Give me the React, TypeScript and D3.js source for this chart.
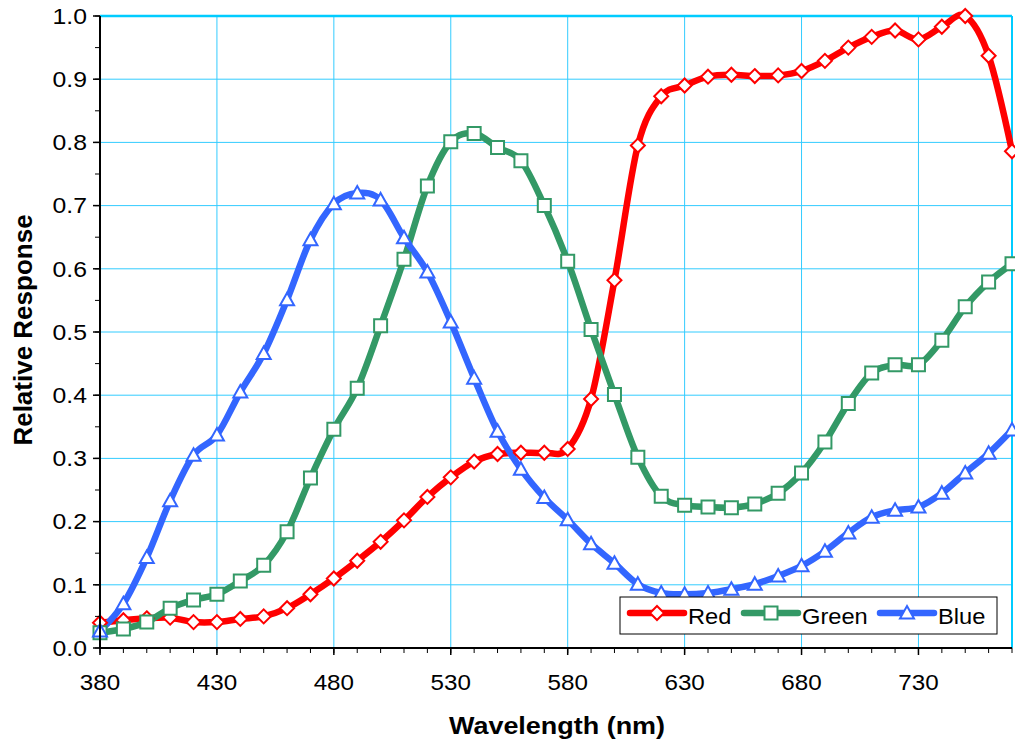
import * as d3 from 'd3';

const WIDTH = 1015;
const HEIGHT = 745;

const wavelengths = [
  380, 390, 400, 410, 420, 430, 440, 450, 460, 470, 480, 490, 500, 510, 520, 530, 540, 550, 560, 570,
  580, 590, 600, 610, 620, 630, 640, 650, 660, 670, 680, 690, 700, 710, 720, 730, 740, 750, 760, 770,
];

const red = [
  0.04, 0.044, 0.047, 0.048, 0.041, 0.041, 0.046, 0.05, 0.063, 0.085, 0.11, 0.138, 0.168, 0.202, 0.239,
  0.27, 0.295, 0.307, 0.309, 0.309, 0.315, 0.394, 0.582, 0.795, 0.873, 0.89, 0.904, 0.907, 0.905, 0.906,
  0.913, 0.929, 0.95, 0.967, 0.977, 0.963, 0.983, 1.0, 0.937, 0.786,
];

const green = [
  0.024, 0.03, 0.041, 0.063, 0.076, 0.085, 0.106, 0.131, 0.184, 0.269, 0.346, 0.411, 0.51, 0.615, 0.731,
  0.801, 0.814, 0.792, 0.771, 0.7, 0.612, 0.504, 0.401, 0.302, 0.24, 0.226, 0.223, 0.222, 0.228, 0.245,
  0.277, 0.326, 0.387, 0.435, 0.448, 0.448, 0.487, 0.54, 0.579, 0.608,
];

const blue = [
  0.027, 0.07, 0.143, 0.233, 0.305, 0.337, 0.405, 0.466, 0.551, 0.646, 0.703, 0.72, 0.709, 0.649, 0.595,
  0.516, 0.427, 0.343, 0.283, 0.238, 0.203, 0.165, 0.134, 0.101, 0.087, 0.085, 0.087, 0.093, 0.101, 0.114,
  0.13, 0.153, 0.182, 0.207, 0.218, 0.223, 0.245, 0.277, 0.308, 0.345,
];

const xTicks = [380, 430, 480, 530, 580, 630, 680, 730];
const yTicks = [0, 0.1, 0.2, 0.3, 0.4, 0.5, 0.6, 0.7, 0.8, 0.9, 1.0];

type Shape = 'diamond' | 'square' | 'triangle';

const series: { name: string; color: string; shape: Shape; values: number[] }[] = [
  { name: 'Red', color: '#ff0000', shape: 'diamond', values: red },
  { name: 'Green', color: '#339966', shape: 'square', values: green },
  { name: 'Blue', color: '#3366ff', shape: 'triangle', values: blue },
];

const GRID = '#33ccff';
const FONT = "'Liberation Sans', Arial, sans-serif";
const SX = 1.1; // text in the original is slightly stretched horizontally

function markerPath(shape: Shape, cx: number, cy: number) {
  if (shape === 'diamond') {
    const r = 7;
    return `M${cx},${cy - r}L${cx + r},${cy}L${cx},${cy + r}L${cx - r},${cy}Z`;
  }
  if (shape === 'square') {
    const h = 6.5;
    return `M${cx - h},${cy - h}H${cx + h}V${cy + h}H${cx - h}Z`;
  }
  const w = 7;
  return `M${cx},${cy - 7}L${cx + w},${cy + 5.5}L${cx - w},${cy + 5.5}Z`;
}

export default function App() {
  const margin = { top: 16, right: 3, bottom: 97, left: 100 };
  const x = d3
    .scaleLinear()
    .domain([380, 770])
    .range([margin.left, WIDTH - margin.right]);
  const y = d3
    .scaleLinear()
    .domain([0, 1])
    .range([HEIGHT - margin.bottom, margin.top]);

  const x0 = x.range()[0];
  const x1 = x.range()[1];
  const y0 = y.range()[0];
  const y1 = y.range()[1];

  const line = d3
    .line<number>()
    .x((_, i) => x(wavelengths[i]))
    .y((d) => y(d))
    .curve(d3.curveCatmullRom.alpha(0));

  const minorX = d3.range(380, 771, 10);
  const minorY = d3.range(0, 1.001, 0.05);

  // legend
  const lg = { x: 620, y: 597, w: 377, h: 37 };
  const legendItems = [
    { s: series[0], lx: 628 },
    { s: series[1], lx: 742 },
    { s: series[2], lx: 878 },
  ];

  return (
    <svg
      width={WIDTH}
      height={HEIGHT}
      style={{ position: 'absolute', left: 0, top: 0, background: '#fff' }}
      fontFamily={FONT}
    >
      {/* grid */}
      {xTicks.map((t) => (
        <line key={'gx' + t} x1={x(t)} x2={x(t)} y1={y0} y2={y1} stroke={GRID} strokeWidth={1} />
      ))}
      {yTicks.map((t) => (
        <line key={'gy' + t} x1={x0} x2={x1} y1={y(t)} y2={y(t)} stroke={GRID} strokeWidth={1} />
      ))}
      <line x1={x0} x2={x1} y1={y1} y2={y1} stroke="#00ccff" strokeWidth={2.5} />
      <line x1={x1} x2={x1} y1={y1} y2={y0} stroke="#00ccff" strokeWidth={2} />

      {/* series */}
      {series.map((s) => (
        <path
          key={s.name}
          d={line(s.values) ?? ''}
          fill="none"
          stroke={s.color}
          strokeWidth={6.5}
          strokeLinejoin="round"
          strokeLinecap="round"
        />
      ))}
      {series.map((s) => (
        <g key={s.name + 'm'}>
          {s.values.map((v, i) => (
            <path
              key={i}
              d={markerPath(s.shape, x(wavelengths[i]), y(v))}
              fill="#fff"
              stroke={s.color}
              strokeWidth={2}
            />
          ))}
        </g>
      ))}

      {/* axes */}
      <line x1={x0} x2={x0} y1={y1} y2={y0} stroke="#000" strokeWidth={2} />
      <line x1={x0} x2={x1} y1={y0} y2={y0} stroke="#000" strokeWidth={2} />
      {minorY.map((t) => (
        <line key={'ty' + t} x1={x0 - 5} x2={x0} y1={y(t)} y2={y(t)} stroke="#000" strokeWidth={1} />
      ))}
      {yTicks.map((t) => (
        <g key={'ly' + t}>
          <line x1={x0 - 7} x2={x0} y1={y(t)} y2={y(t)} stroke="#000" strokeWidth={1.5} />
          <text
            transform={`translate(${x0 - 13},${y(t)}) scale(${SX},1)`}
            dy="0.35em"
            textAnchor="end"
            fontSize={22.5}
            fill="#000"
          >
            {t.toFixed(1)}
          </text>
        </g>
      ))}
      {minorX.map((t) => (
        <line key={'tx' + t} x1={x(t)} x2={x(t)} y1={y0} y2={y0 + 5} stroke="#000" strokeWidth={1} />
      ))}
      {xTicks.map((t) => (
        <g key={'lx' + t}>
          <line x1={x(t)} x2={x(t)} y1={y0} y2={y0 + 7} stroke="#000" strokeWidth={1.5} />
          <text
            transform={`translate(${x(t)},${y0 + 34}) scale(${SX},1)`}
            dy="0.35em"
            textAnchor="middle"
            fontSize={22}
            fill="#000"
          >
            {t}
          </text>
        </g>
      ))}

      <text
        transform={`translate(557,725) scale(${SX},1)`}
        dy="0.35em"
        textAnchor="middle"
        fontSize={24.5}
        fontWeight="bold"
      >
        Wavelength (nm)
      </text>
      <text
        transform={`translate(23,330) rotate(-90)`}
        dy="0.35em"
        textAnchor="middle"
        fontSize={26}
        fontWeight="bold"
      >
        Relative Response
      </text>

      {/* legend */}
      <rect x={lg.x} y={lg.y} width={lg.w} height={lg.h} fill="#fff" stroke="#000" strokeWidth={1} />
      {legendItems.map(({ s, lx }) => (
        <g key={'lg' + s.name}>
          <line
            x1={lx + 2}
            x2={lx + 56}
            y1={lg.y + 16}
            y2={lg.y + 16}
            stroke={s.color}
            strokeWidth={6.5}
            strokeLinecap="round"
          />
          <path d={markerPath(s.shape, lx + 29, lg.y + 16)} fill="#fff" stroke={s.color} strokeWidth={2} />
          <text
            transform={`translate(${lx + 60},${lg.y + 19}) scale(${SX},1)`}
            dy="0.35em"
            fontSize={21.5}
            fill="#000"
          >
            {s.name}
          </text>
        </g>
      ))}
    </svg>
  );
}
